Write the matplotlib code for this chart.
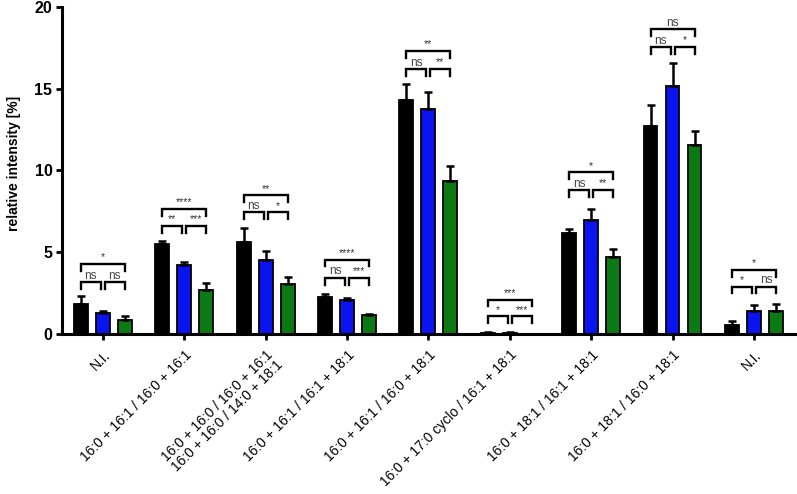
import matplotlib
matplotlib.use("Agg")
import matplotlib.pyplot as plt
import numpy as np

plt.rcParams['font.family'] = ['Liberation Sans', 'DejaVu Sans']

categories = [
    "N.I.",
    "16:0 + 16:1 / 16:0 + 16:1",
    "16:0 + 16:0 / 16:0 + 16:1\n16:0 + 16:0 / 14:0 + 18:1",
    "16:0 + 16:1 / 16:1 + 18:1",
    "16:0 + 16:1 / 16:0 + 18:1",
    "16:0 + 17:0 cyclo / 16:1 + 18:1",
    "16:0 + 18:1 / 16:1 + 18:1",
    "16:0 + 18:1 / 16:0 + 18:1",
    "N.I.",
]

black_vals = [1.83, 5.51, 5.60, 2.27, 14.30, 0.08, 6.16, 12.73, 0.55]
black_err = [0.47, 0.16, 0.90, 0.18, 0.97, 0.03, 0.24, 1.29, 0.27]
blue_vals = [1.28, 4.24, 4.55, 2.05, 13.78, 0.06, 6.94, 15.14, 1.43]
blue_err = [0.12, 0.16, 0.50, 0.15, 1.02, 0.03, 0.69, 1.46, 0.37]
green_vals = [0.86, 2.70, 3.07, 1.18, 9.33, 0.01, 4.69, 11.53, 1.43]
green_err = [0.24, 0.40, 0.43, 0.07, 0.97, 0.0, 0.51, 0.87, 0.41]

# significance: (black-blue, blue-green, black-green)
sig_labels = [
    ("ns", "ns", "*"),
    ("**", "***", "****"),
    ("ns", "*", "**"),
    ("ns", "***", "****"),
    ("ns", "**", "**"),
    ("*", "***", "***"),
    ("ns", "**", "*"),
    ("ns", "*", "ns"),
    ("*", "ns", "*"),
]
sig_low = [3.16, 6.59, 7.43, 3.44, 16.2, 1.08, 8.8, 17.55, 2.9]
sig_high = [4.28, 7.65, 8.47, 4.55, 17.3, 2.1, 9.88, 18.65, 3.92]

fig = plt.figure(figsize=(7.97, 4.94), dpi=100)
ax = fig.add_axes([0.078, 0.324, 0.919, 0.662])

x = np.arange(len(categories))
w = 0.17
off = 0.27
colors = ["#000000", "#0a14f0", "#0b7a14"]
for vals, errs, c, o in [(black_vals, black_err, colors[0], -off),
                          (blue_vals, blue_err, colors[1], 0),
                          (green_vals, green_err, colors[2], off)]:
    ax.bar(x + o, vals, width=w, color=c, edgecolor="black", linewidth=1.3, zorder=2)
    ax.errorbar(x + o, vals, yerr=[np.zeros(len(vals)), errs], fmt="none",
                ecolor="black", elinewidth=1.8, capsize=3, capthick=1.8, zorder=3)

leg = 0.42
gap = 0.025
for i in range(len(categories)):
    lo, hi = sig_low[i], sig_high[i]
    a, b, c = x[i] - off, x[i], x[i] + off
    for (x0, x1, y, lab) in [(a, b - gap, lo, sig_labels[i][0]),
                             (b + gap, c, lo, sig_labels[i][1]),
                             (a, c, hi, sig_labels[i][2])]:
        ax.plot([x0, x0, x1, x1], [y - leg, y, y, y - leg], color="black", lw=1.7,
                solid_joinstyle="miter", zorder=3)
        if lab == "ns":
            ax.text((x0 + x1) / 2, y + 0.02, lab, ha="center", va="bottom",
                    fontsize=8.5, color="#444444")
        else:
            ax.text((x0 + x1) / 2, y + 0.1, lab, ha="center", va="bottom",
                    fontsize=7.5, color="#333333")

ax.set_xlim(-0.5, 8.5)
ax.set_ylim(0, 20)
ax.set_yticks([0, 5, 10, 15, 20])
ax.set_yticklabels(["0", "5", "10", "15", "20"], fontweight="bold", fontsize=11.5)
ax.set_xticks(x)
ax.set_xticklabels(categories, rotation=45, ha="right", rotation_mode="anchor",
                   fontsize=10, linespacing=1.0)
ax.set_ylabel("relative intensity [%]", fontweight="bold", fontsize=10)
ax.yaxis.set_label_coords(-0.056, 0.52)
for s in ["top", "right"]:
    ax.spines[s].set_visible(False)
for s in ["left", "bottom"]:
    ax.spines[s].set_linewidth(2.2)
ax.tick_params(axis="both", width=2, length=4)
ax.tick_params(axis="x", pad=6)
ax.tick_params(axis="y", pad=3)

fig.savefig("out.png", dpi=100)
